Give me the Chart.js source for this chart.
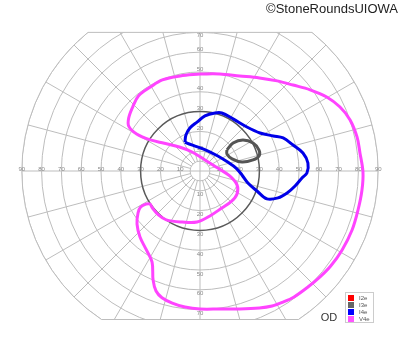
<!DOCTYPE html>
<html>
<head>
<meta charset="utf-8">
<script src="https://cdn.jsdelivr.net/npm/chart.js"></script>
<style>
  html, body { margin: 0; padding: 0; background: #fff; }
  #wrap { width: 400px; height: 352px; position: relative; }
</style>
</head>
<body>
<div id="wrap"><canvas id="field" width="400" height="352"></canvas></div>
<script>
// isopters, in degrees of visual field (x = right, y = up)
var v4eX = [0, -10, -19, -25, -31, -34, -36, -36, -32, -25, -18, -10, -4, 2.5, 9, 15, 18.7, 18.7, 16, 11, 5, -1.5, -9, -17, -21, -24, -25.3, -27.3, -30, -31.3, -31.8, -30.3, -27, -24.2, -23.7, -22.2, -19.2, -14, -7.6, 0, 10, 20, 30, 36.4, 42, 47.5, 54.5, 60.6, 66, 71.7, 76.8, 79.8, 81.8, 82.3, 80.8, 79.3, 75.8, 70.7, 64, 55.6, 47, 39, 30, 20, 10, 0];
var v4eY = [49, 48, 46, 42.4, 38, 32.3, 26.8, 22.7, 18.7, 15.7, 14, 12, 9.6, 5.6, 1.5, -2.5, -7, -11.6, -15.2, -18.7, -22.7, -25.8, -25.8, -24.7, -22.2, -18.7, -16.7, -16.7, -18.2, -21.2, -26.8, -33.3, -40, -46, -55, -60.6, -64, -66.7, -68.7, -69.7, -69.7, -69.7, -69.2, -68.2, -66.2, -63.6, -58.6, -53.5, -48, -40, -29.8, -19.7, -9.6, -0.5, 9, 17.2, 25.8, 32.3, 37.4, 41, 43.4, 45.5, 47, 48, 49, 49];

var i4eX = [-7.6, -7.1, -5.1, -1.5, 2.5, 7.6, 11, 16.7, 23.7, 30.3, 37, 42, 47, 52, 54.5, 54, 51.5, 48, 44, 39.4, 33.8, 28.8, 24.2, 21.2, 18.2, 14, 9, 3, -2.5, -6.6, -7.6];
var i4eY = [14.6, 18.2, 21.7, 24.7, 27.8, 29.3, 29.3, 26.3, 22.2, 19.2, 17.7, 16.7, 13.1, 9.1, 4, -1, -3.5, -7.6, -11.1, -13.6, -14.1, -10.1, -6.1, -2, 1.5, 4.5, 7.6, 10.6, 12.6, 14.1, 14.6];

var i3eX = [13.6, 16.7, 21.7, 26.8, 29.8, 29.8, 26.8, 21.2, 16.2, 13.6, 13.6];
var i3eY = [10.6, 14.1, 15.7, 14.1, 10.6, 7.6, 5.6, 4.5, 6.1, 8.6, 10.6];

var legendLabels = ['I2e', 'I3e', 'I4e', 'V4e'];
var legendColors = ['#ff0000', '#666666', '#0000ff', '#ff55ff'];

var rings = [10, 20, 30, 40, 50, 60, 70, 80, 90];
var meridianStep = 15;
var axisTicks = [10, 20, 30, 40, 50, 60, 70, 80, 90];
var vertTicks = [10, 20, 30, 40, 50, 60, 70];
var fieldTop = 70, fieldBottom = -75;

function toPoints(xs, ys) {
    var pts = [];
    for (var i = 0; i < xs.length; i++) pts.push({ x: xs[i], y: ys[i] });
    return pts;
}

var gridPlugin = {
    id: 'goldmannGrid',
    beforeDatasetsDraw: function (chart) {
        var ctx = chart.ctx, sx = chart.scales.x, sy = chart.scales.y;
        var cx = sx.getPixelForValue(0), cy = sy.getPixelForValue(0);
        var k = sx.getPixelForValue(1) - cx;
        var R = 90 * k;
        var topY = sy.getPixelForValue(fieldTop), botY = sy.getPixelForValue(fieldBottom);

        ctx.save();
        // clip to the field shape
        ctx.beginPath();
        ctx.arc(cx, cy, R, 0, Math.PI * 2);
        ctx.clip();
        ctx.beginPath();
        ctx.rect(0, topY, chart.width, botY - topY);
        ctx.clip();

        ctx.strokeStyle = '#bdbdbd';
        ctx.lineWidth = 1;
        rings.forEach(function (r) {
            if (r === 30) return;
            ctx.beginPath();
            ctx.arc(cx, cy, r * k, 0, Math.PI * 2);
            ctx.stroke();
        });
        ctx.beginPath();
        ctx.arc(cx, cy, 5 * k, 0, Math.PI * 2);
        ctx.stroke();

        for (var a = 0; a < 360; a += meridianStep) {
            var t = a * Math.PI / 180;
            var r0 = (a % 90 === 0) ? 0 : 5;
            ctx.beginPath();
            ctx.moveTo(cx + r0 * k * Math.cos(t), cy - r0 * k * Math.sin(t));
            ctx.lineTo(cx + 95 * k * Math.cos(t), cy - 95 * k * Math.sin(t));
            ctx.stroke();
        }

        // 30 degree ring darker
        ctx.strokeStyle = '#5a5a5a';
        ctx.lineWidth = 1.5;
        ctx.beginPath();
        ctx.arc(cx, cy, 30 * k, 0, Math.PI * 2);
        ctx.stroke();
        ctx.restore();

        // outline: side arcs plus flat top and bottom
        ctx.save();
        ctx.strokeStyle = '#bdbdbd';
        ctx.lineWidth = 1;
        var aTop = Math.asin(fieldTop / 90), aBot = Math.asin(-fieldBottom / 90);
        ctx.beginPath();
        ctx.arc(cx, cy, R, -aTop, aBot, false);
        ctx.stroke();
        ctx.beginPath();
        ctx.arc(cx, cy, R, Math.PI - aBot, Math.PI + aTop, false);
        ctx.stroke();
        ctx.beginPath();
        ctx.moveTo(cx - R * Math.cos(aTop), topY);
        ctx.lineTo(cx + R * Math.cos(aTop), topY);
        ctx.moveTo(cx - R * Math.cos(aBot), botY);
        ctx.lineTo(cx + R * Math.cos(aBot), botY);
        ctx.stroke();

        // degree labels
        ctx.fillStyle = '#8a8a8a';
        ctx.font = '6px "Liberation Sans", Arial, sans-serif';
        ctx.textAlign = 'center';
        ctx.textBaseline = 'middle';
        axisTicks.forEach(function (d) {
            ctx.fillText(String(d), sx.getPixelForValue(-d), cy - 2);
            ctx.fillText(String(d), sx.getPixelForValue(d), cy - 2);
        });
        vertTicks.forEach(function (d) {
            var yu = Math.max(sy.getPixelForValue(d) - 3, topY + 3);
            ctx.fillText(String(d), cx, yu);
            ctx.fillText(String(d), cx, sy.getPixelForValue(-d) + 4);
        });
        ctx.restore();
    },
    afterDraw: function (chart) {
        var ctx = chart.ctx;
        ctx.save();
        // legend box
        ctx.fillStyle = '#fff';
        ctx.fillRect(345, 292, 28, 30);
        ctx.strokeStyle = '#cccccc';
        ctx.lineWidth = 1;
        ctx.strokeRect(345.5, 292.5, 28, 30);
        ctx.font = '6px "Liberation Sans", Arial, sans-serif';
        ctx.textAlign = 'left';
        ctx.textBaseline = 'middle';
        legendLabels.forEach(function (lab, i) {
            var y = 295 + i * 7;
            ctx.fillStyle = legendColors[i];
            ctx.fillRect(348, y, 6, 6);
            ctx.fillStyle = '#555';
            ctx.fillText(lab, 359, y + 3);
        });
        // eye label
        ctx.fillStyle = '#333';
        ctx.font = '11px "Liberation Sans", Arial, sans-serif';
        ctx.textAlign = 'center';
        ctx.fillText('OD', 329, 318);
        // copyright
        ctx.font = '13px "Liberation Sans", Arial, sans-serif';
        ctx.textAlign = 'right';
        ctx.fillStyle = '#222';
        ctx.fillText('\u00A9StoneRoundsUIOWA', 398, 9);
        ctx.restore();
    }
};

var lineStyle = { showLine: true, pointRadius: 0, borderWidth: 3, tension: 0.35, fill: false };

new Chart(document.getElementById('field'), {
    type: 'scatter',
    data: {
        datasets: [
            Object.assign({ label: 'V4e', data: toPoints(v4eX, v4eY), borderColor: '#ff44ff' }, lineStyle),
            Object.assign({ label: 'I4e', data: toPoints(i4eX, i4eY), borderColor: '#0000e8' }, lineStyle),
            Object.assign({ label: 'I3e', data: toPoints(i3eX, i3eY), borderColor: '#555555' }, lineStyle)
        ]
    },
    options: {
        responsive: false,
        animation: false,
        devicePixelRatio: 1,
        layout: { padding: 0 },
        plugins: { legend: { display: false }, tooltip: { enabled: false } },
        scales: {
            x: { type: 'linear', min: -101, max: 101, display: false },
            y: { type: 'linear', min: -91.405, max: 86.355, display: false }
        }
    },
    plugins: [gridPlugin]
});
</script>
</body>
</html>
